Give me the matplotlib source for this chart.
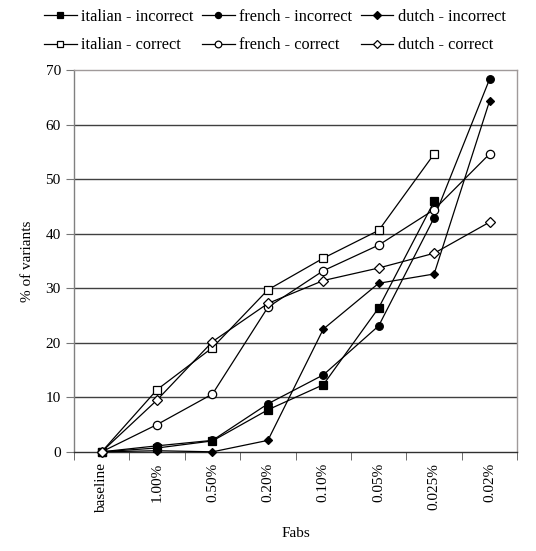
import numpy as np
import matplotlib.pyplot as plt

plt.rcParams['font.family'] = ['Liberation Serif', 'DejaVu Serif']

categories = ["baseline", "1.00%", "0.50%", "0.20%", "0.10%", "0.05%", "0.025%", "0.02%"]

italian_incorrect = [0, 0.7, 2.0, 7.7, 12.3, 26.4, 45.9, None]
french_incorrect = [0, 1.1, 2.1, 8.8, 14.1, 23.1, 42.9, 68.3]
dutch_incorrect = [0, 0.2, 0, 2.1, 22.5, 30.9, 32.6, 64.3]
italian_correct = [0, 11.4, 19.1, 29.7, 35.5, 40.6, 54.6, None]
french_correct = [0, 5.0, 10.6, 26.5, 33.2, 37.9, 44.4, 54.6]
dutch_correct = [0, 9.5, 20.2, 27.2, 31.4, 33.7, 36.4, 42.1]

y_ticks = [0, 10, 20, 30, 40, 50, 60, 70]

fig = plt.figure(figsize=(5.36, 5.51), dpi=100)
ax = fig.add_axes([0.138, 0.18, 0.827, 0.693])

x = np.arange(len(categories))


def to_arr(vals):
    return np.array([np.nan if v is None else v for v in vals], dtype=float)


# order is column-wise for the 3-column legend
series = [
    ("italian - incorrect", italian_incorrect, "s", "black", 5.5),
    ("italian - correct", italian_correct, "s", "white", 6),
    ("french - incorrect", french_incorrect, "o", "black", 5.5),
    ("french - correct", french_correct, "o", "white", 6),
    ("dutch - incorrect", dutch_incorrect, "D", "black", 4.5),
    ("dutch - correct", dutch_correct, "D", "white", 5),
]

handles = []
for label, vals, marker, face, ms in series:
    h, = ax.plot(x, to_arr(vals), color="black", linewidth=0.9, marker=marker,
                 markersize=ms, markerfacecolor=face, markeredgecolor="black",
                 markeredgewidth=0.9, label=label, clip_on=False, zorder=3)
    handles.append(h)

ax.set_xlim(-0.5, len(categories) - 0.5)
ax.set_ylim(0, 70)
ax.set_yticks(y_ticks)
ax.set_xticks(x)
ax.set_xticklabels(categories, rotation=90, fontsize=11)
ax.set_xticks(np.arange(-0.5, len(categories)), minor=True)
ax.tick_params(axis='x', which='major', length=0, pad=8)
ax.tick_params(axis='x', which='minor', length=6, direction='out', color='#555555')
ax.tick_params(axis='y', length=6, direction='out', color='#777777', labelsize=11)

for yv in y_ticks[1:-1]:
    ax.axhline(yv, color='#404040', linewidth=1.0, zorder=1)

ax.spines['top'].set_color('#a09a9a')
ax.spines['right'].set_color('#a09a9a')
ax.spines['left'].set_color('#808080')
ax.spines['bottom'].set_color('#303030')
for s in ax.spines.values():
    s.set_linewidth(1.0)

ax.set_ylabel('% of variants', fontsize=11, labelpad=8)
ax.set_xlabel('Fabs', fontsize=11, labelpad=10)

fig.legend(handles=handles, loc='upper left', bbox_to_anchor=(0.055, 1.01), ncol=3,
           frameon=False, fontsize=11.7, handlelength=2.0, handletextpad=0.3,
           columnspacing=0.5, labelspacing=0.75, markerscale=0.8)

plt.savefig("out.png", dpi=100)
